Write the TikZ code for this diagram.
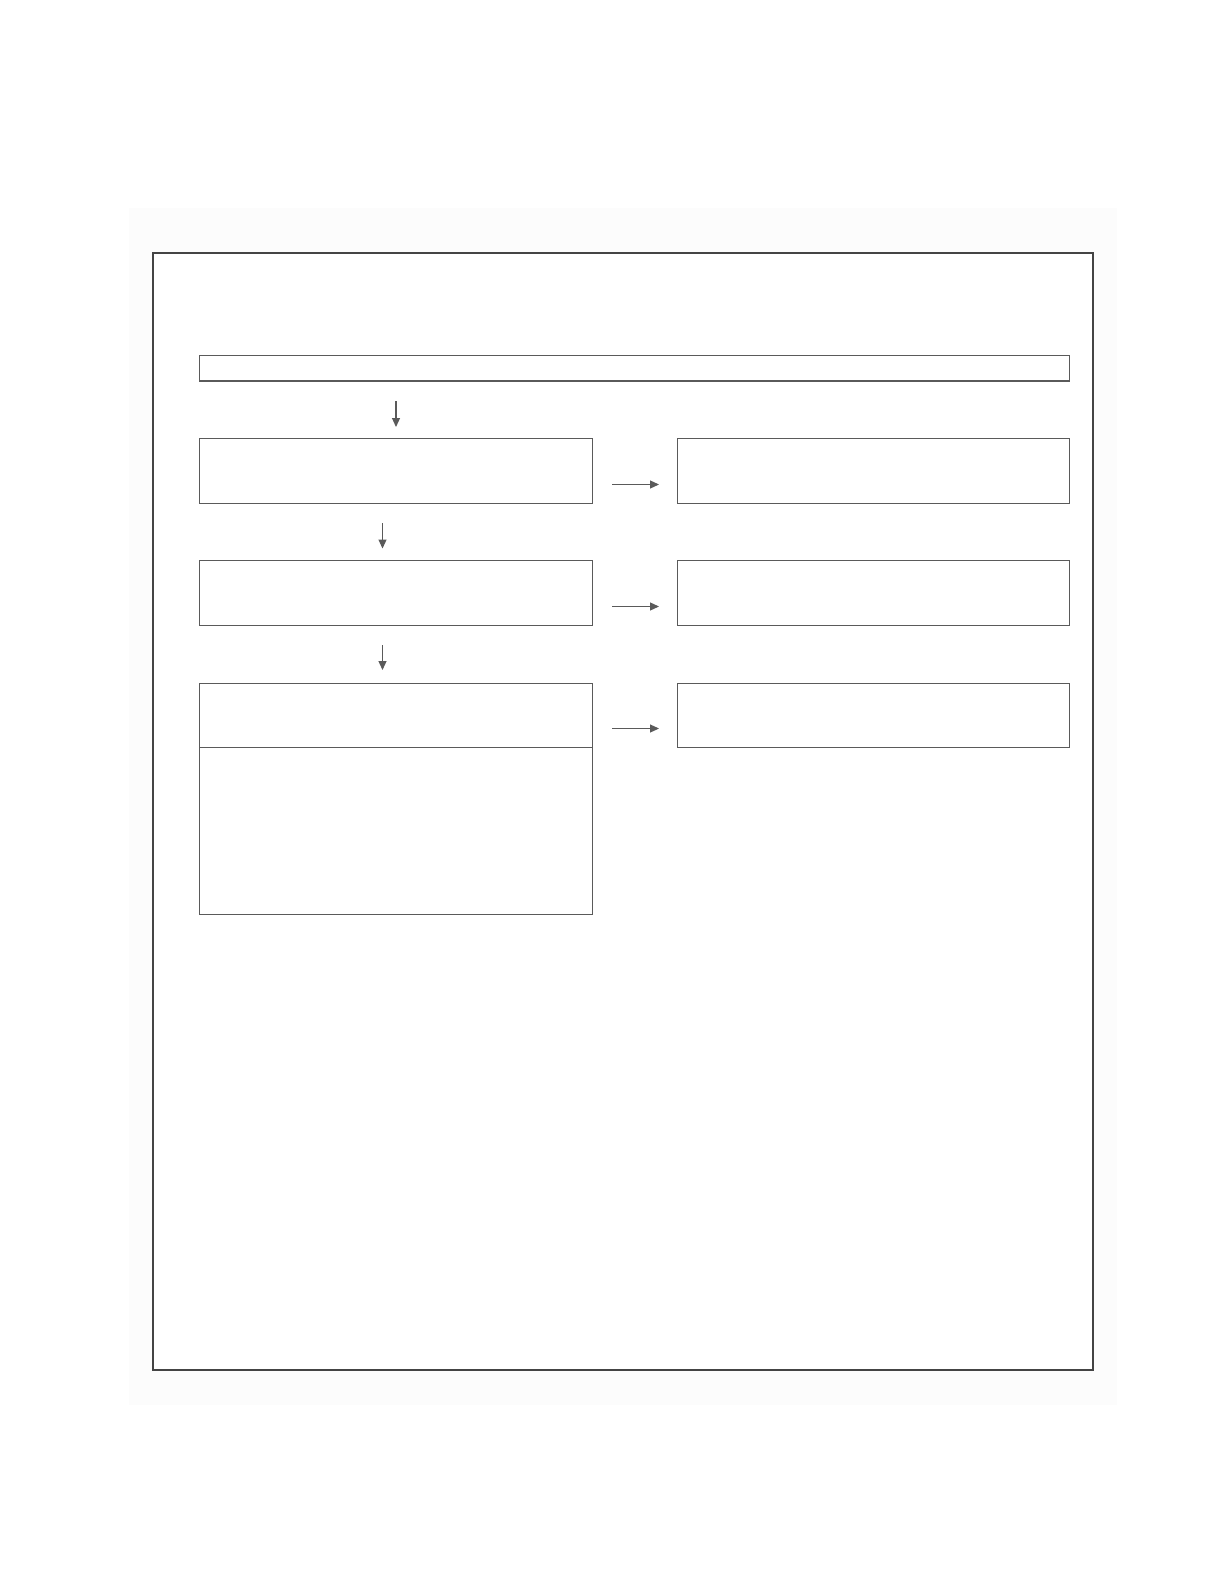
\documentclass[tikz,border=0pt]{standalone}
\usepackage{tikz}
\usetikzlibrary{arrows.meta}

\definecolor{framegray}{RGB}{68,68,68}
\definecolor{boxgray}{RGB}{90,90,90}

\tikzset{
  stagebox/.style={draw=boxgray, line width=0.6pt, fill=white, inner sep=0pt, outer sep=0pt, anchor=north west},
  flowarrow/.style={draw=boxgray, line width=0.6pt, -{Triangle[length=4.5pt,width=4pt]}}
}

\begin{document}
\begin{tikzpicture}[x=0.5pt,y=0.5pt,yscale=-1,xscale=1]
%page
\useasboundingbox [fill=white] (0,0) rectangle (1219,1584);
\path [fill=black!1] (129,208) rectangle (1117,1405);

%Outer frame
\draw [color=framegray, line width=1pt, fill=white] (153,253) rectangle (1093,1370);

%Top bar
\node [stagebox, minimum width=435pt, minimum height=12.75pt] (top) at (199.5,355.5) {};

%Left column
\node [stagebox, minimum width=196.5pt, minimum height=32.5pt] (left1) at (199.5,438.5) {};
\node [stagebox, minimum width=196.5pt, minimum height=32.5pt] (left2) at (199.5,560.5) {};
\node [stagebox, minimum width=196.5pt, minimum height=115.5pt] (left3) at (199.5,683.5) {};
\draw [draw=boxgray, line width=0.6pt] (199.5,747.5) -- (592.5,747.5);

%Right column
\node [stagebox, minimum width=196pt, minimum height=32.5pt] (right1) at (677.5,438.5) {};
\node [stagebox, minimum width=196pt, minimum height=32.5pt] (right2) at (677.5,560.5) {};
\node [stagebox, minimum width=196pt, minimum height=32pt] (right3) at (677.5,683.5) {};

%Down arrows
\coordinate (d1s) at (396,401);   \coordinate (d1e) at (396,427);
\coordinate (d2s) at (382.5,523); \coordinate (d2e) at (382.5,548.5);
\coordinate (d3s) at (382.5,645); \coordinate (d3e) at (382.5,670);
\draw [flowarrow] (d1s) -- (d1e);
\draw [flowarrow] (d2s) -- (d2e);
\draw [flowarrow] (d3s) -- (d3e);

%Side arrows
\foreach \y [count=\i] in {484.5,606.5,728.5}{
  \coordinate (s\i s) at (612,\y); \coordinate (s\i e) at (659,\y);
  \draw [flowarrow] (s\i s) -- (s\i e);
}

\end{tikzpicture}
\end{document}
